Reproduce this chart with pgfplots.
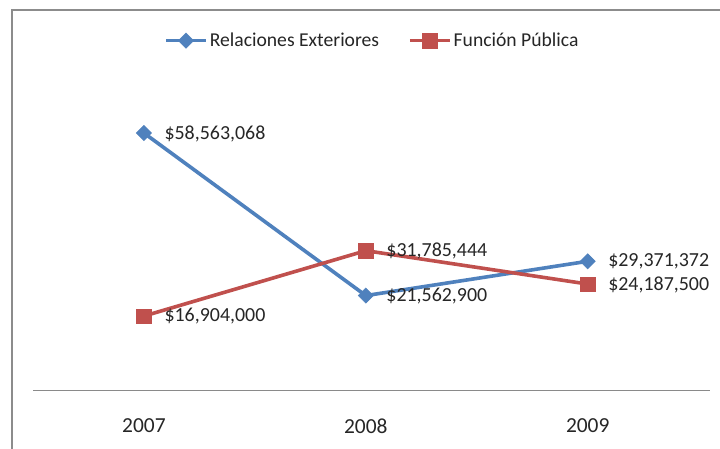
\documentclass[border=0pt]{standalone}
\usepackage{pgfplots}
\pgfplotsset{compat=1.18}
\usepackage{fontspec}
\setmainfont{Carlito}
\definecolor{serblue}{HTML}{4F81BD}
\definecolor{serred}{HTML}{C0504D}
\definecolor{framegray}{HTML}{8C8C8C}
\definecolor{axgray}{HTML}{8A8A8A}
\begin{document}
\begin{tikzpicture}
\useasboundingbox (0,0) rectangle (720bp,449bp);
\fill[white] (0,0) rectangle (720bp,449bp);
\draw[framegray,line width=2bp] (12bp,0) -- (12bp,439.3bp) -- (721bp,439.3bp);
\begin{axis}[
  at={(33bp,58.7bp)}, anchor=south west,
  scale only axis,
  width=676.75bp, height=307.5bp,
  xmin=-0.5, xmax=2.55,
  ymin=0, ymax=70000000,
  axis x line*=bottom,
  axis y line=none,
  x axis line style={axgray,line width=1bp},
  xtick={0,1,2},
  xticklabels={2007,2008,2009},
  major tick length=0pt,
  xticklabel style={font=\fontsize{21.5}{24}\selectfont, text=black!85, yshift=-25bp},
  clip=false,
  nodes near coords,
  point meta=explicit symbolic,
  every node near coord/.style={anchor=west, xshift=17bp, yshift=-0.5bp, font=\fontsize{20}{23}\selectfont, text=black!85},
  legend columns=2,
  legend style={at={(0.5015,1.137)}, anchor=center, draw=none, fill=none,
    font=\fontsize{19.7}{22}\selectfont, text=black!85,
    /tikz/every even column/.append style={column sep=27bp},
    inner sep=0pt},
  legend image code/.code={%
    \draw[mark repeat=2,mark phase=2] plot coordinates {(0bp,0bp) (20bp,0bp) (40bp,0bp)};},
]
\addplot[serblue, line width=3.6bp, mark=square*, mark size=5.4bp, mark options={rotate=45, solid, fill=serblue, draw=serblue, line width=0.5bp}]
  coordinates {(0,58563068) [\$58,563,068] (1,21562900) [\$21,562,900] (2,29371372) [\$29,371,372]};
\addlegendentry{Relaciones Exteriores}
\addplot[serred, line width=3.6bp, mark=square*, mark size=7.2bp, mark options={solid, fill=serred, draw=serred, line width=0.5bp}]
  coordinates {(0,16904000) [\$16,904,000] (1,31785444) [\$31,785,444] (2,24187500) [\$24,187,500]};
\addlegendentry{Función Pública}
\end{axis}
\end{tikzpicture}
\end{document}
